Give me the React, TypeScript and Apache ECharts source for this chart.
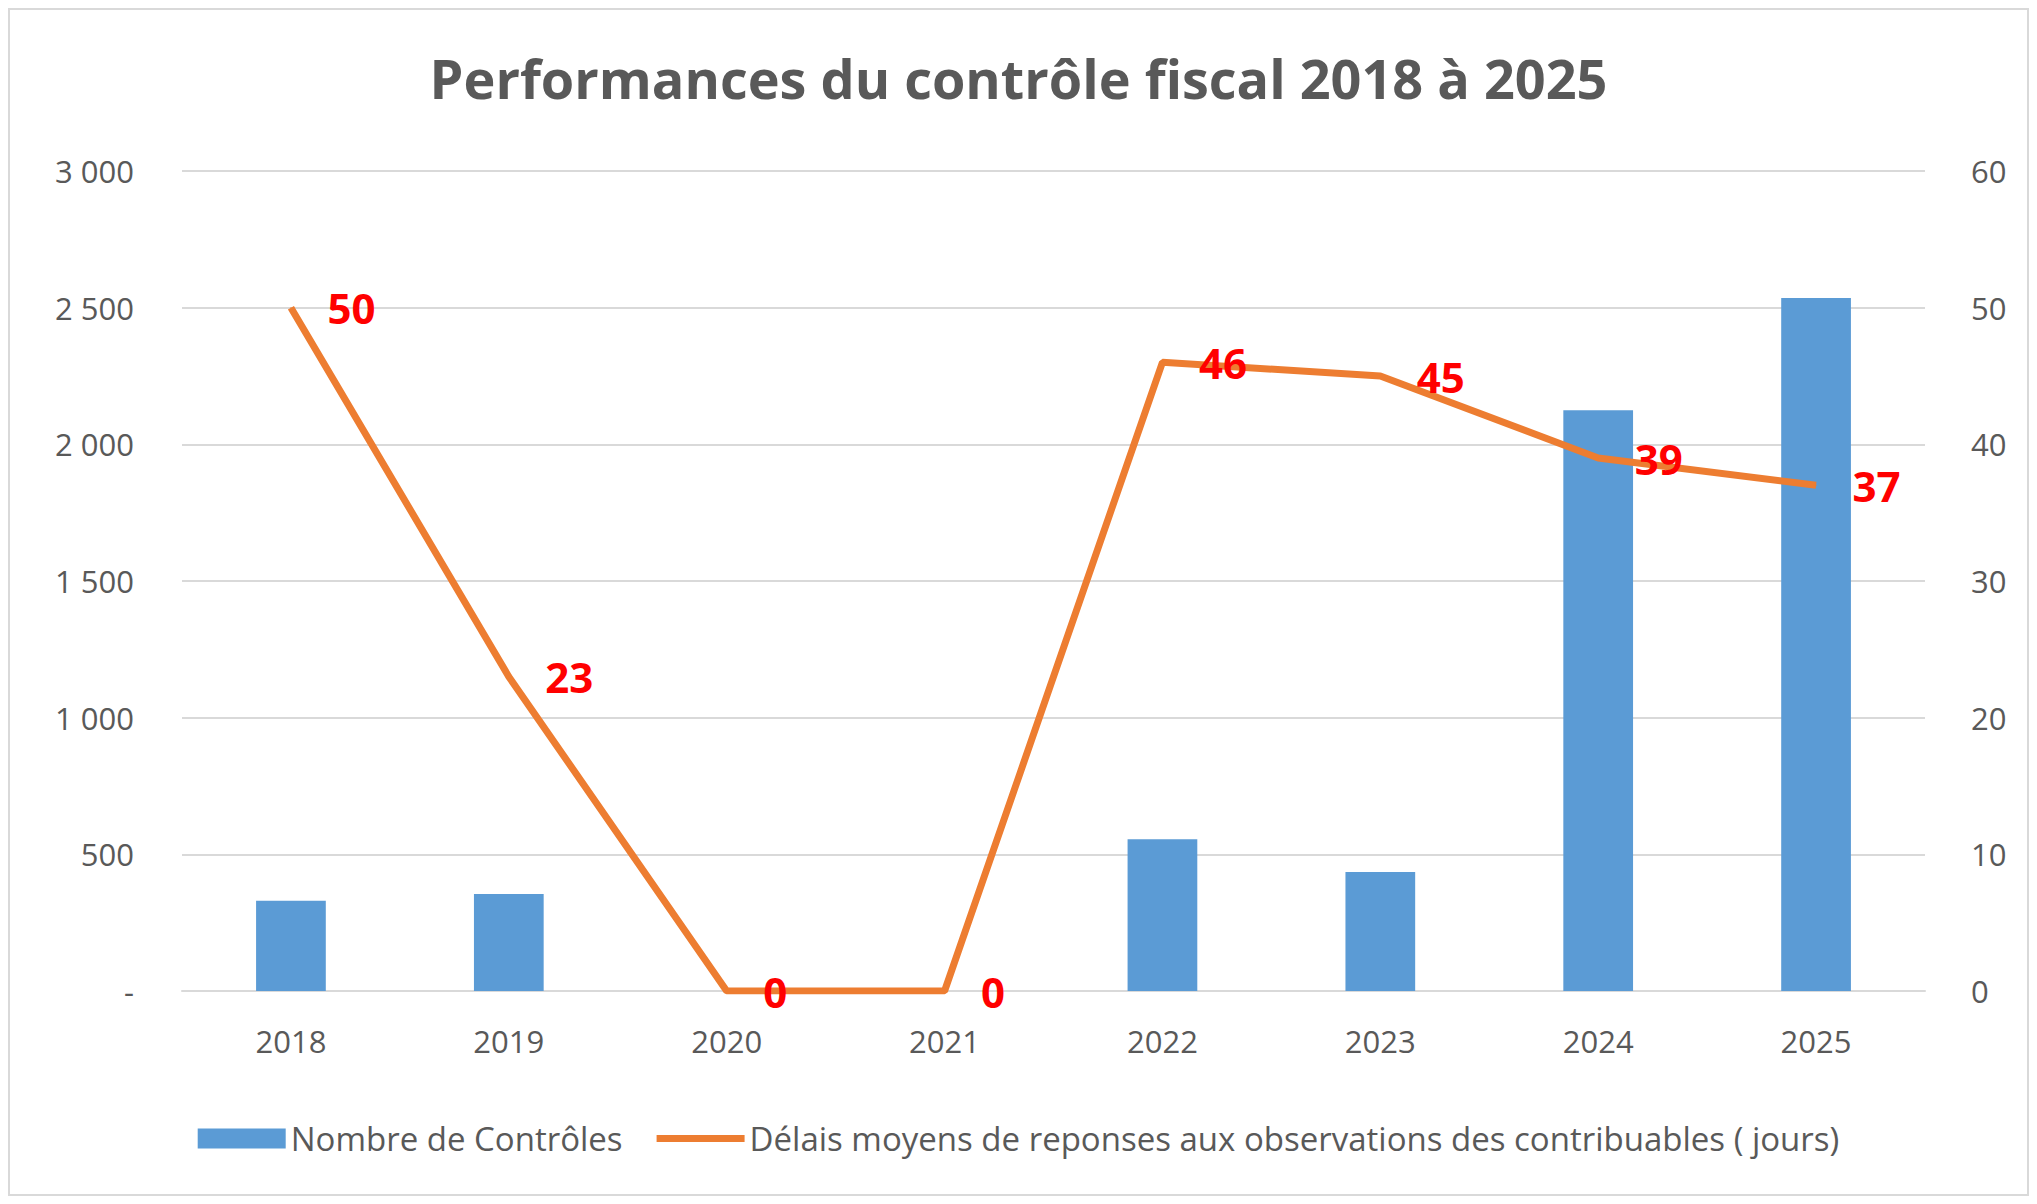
import React, { useEffect, useRef } from "react";
import * as echarts from "echarts";

const years = ["2018", "2019", "2020", "2021", "2022", "2023", "2024", "2025"];
const controles = [330, 355, 0, 0, 555, 435, 2125, 2535];
const delais = [50, 23, 0, 0, 46, 45, 39, 37];

export default function App() {
  const ref = useRef<HTMLDivElement>(null);
  useEffect(() => {
    const chart = echarts.init(ref.current!, undefined, { renderer: "svg" });
    const font = "'Open Sans', sans-serif";
    chart.setOption({
      animation: false,
      backgroundColor: "#fff",
      textStyle: { fontFamily: font },
      title: {
        text: "Performances du contrôle fiscal 2018 à 2025",
        left: "center",
        top: 38,
        textStyle: { fontSize: 54, fontWeight: "bold", color: "#595959", fontFamily: font },
      },
      grid: { left: 174, right: 104, top: 163, bottom: 205 },
      legend: {
        bottom: 36,
        left: "center",
        itemWidth: 88,
        itemHeight: 20,
        itemGap: 34,
        textStyle: { fontSize: 33, color: "#595959", fontFamily: font },
        data: [
          { name: "Nombre de Contrôles", icon: "rect" },
          {
            name: "Délais moyens de reponses aux observations des contribuables ( jours)",
            icon: "path://M0,0H88V7H0Z",
          },
        ],
      },
      xAxis: {
        type: "category",
        data: years,
        axisLine: { lineStyle: { color: "#d9d9d9", width: 2 } },
        axisTick: { show: false },
        axisLabel: { fontSize: 31, color: "#595959", margin: 34 },
      },
      yAxis: [
        {
          type: "value",
          min: 0,
          max: 3000,
          interval: 500,
          axisLine: { show: false },
          axisTick: { show: false },
          splitLine: { lineStyle: { color: "#d9d9d9", width: 2 } },
          axisLabel: {
            fontSize: 31,
            color: "#595959",
            margin: 48,
            formatter: (v: number) => (v === 0 ? "-" : v.toLocaleString("fr-FR").replace(/\s/g, " ")),
          },
        },
        {
          type: "value",
          min: 0,
          max: 60,
          interval: 10,
          axisLine: { show: false },
          axisTick: { show: false },
          splitLine: { show: false },
          axisLabel: { fontSize: 31, color: "#595959", margin: 46 },
        },
      ],
      series: [
        {
          name: "Nombre de Contrôles",
          type: "bar",
          data: controles,
          barWidth: "32%",
          itemStyle: { color: "#5b9bd5" },
        },
        {
          name: "Délais moyens de reponses aux observations des contribuables ( jours)",
          type: "line",
          yAxisIndex: 1,
          data: delais,
          symbol: "circle",
          symbolSize: 1,
          showSymbol: true,
          lineStyle: { color: "#ed7d31", width: 7 },
          itemStyle: { color: "#ed7d31" },
          label: {
            show: true,
            position: "right",
            distance: 36,
            color: "#ff0000",
            fontWeight: "bold",
            fontSize: 42,
            fontFamily: font,
          },
        },
      ],
      graphic: [
        {
          type: "rect",
          shape: { x: 1, y: 1, width: 2019, height: 1186 },
          style: { fill: "none", stroke: "#d9d9d9", lineWidth: 2 },
        },
      ],
    });
    return () => chart.dispose();
  }, []);
  return <div ref={ref} style={{ width: 2021, height: 1188 }} />;
}
